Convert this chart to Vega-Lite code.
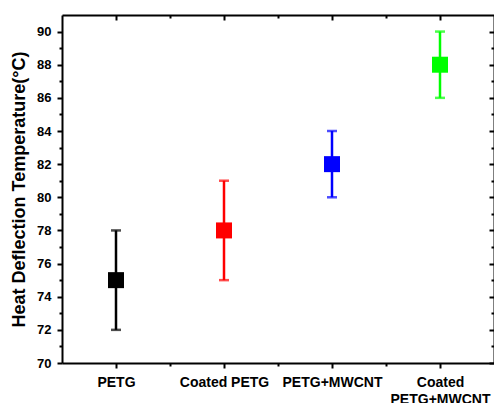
{
  "$schema": "https://vega.github.io/schema/vega-lite/v6.json",
  "autosize": "none",
  "width": 432,
  "height": 348,
  "padding": {"left": 62, "top": 15, "right": 0, "bottom": 40},
  "background": "white",
  "config": {"view": {"stroke": null}, "font": "Liberation Sans"},
  "data": {"values": [
    {"g": "PETG", "i": 1, "v": 75, "lo": 72, "hi": 78},
    {"g": "Coated PETG", "i": 2, "v": 78, "lo": 75, "hi": 81},
    {"g": "PETG+MWCNT", "i": 3, "v": 82, "lo": 80, "hi": 84},
    {"g": "Coated PETG+MWCNT", "i": 4, "v": 88, "lo": 86, "hi": 90}
  ]},
  "layer": [
    {
      "mark": {"type": "rule", "strokeWidth": 2.5},
      "encoding": {
        "x": {"field": "i", "type": "quantitative",
          "scale": {"domain": [0.5, 4.5], "nice": false, "zero": false},
          "axis": {"orient": "bottom", "title": null, "grid": false,
            "values": [1, 1.5, 2, 2.5, 3, 3.5, 4],
            "labelExpr": "datum.value == 1 ? 'PETG' : datum.value == 2 ? 'Coated PETG' : datum.value == 3 ? 'PETG+MWCNT' : datum.value == 4 ? ['Coated', 'PETG+MWCNT'] : ''",
            "labelFont": "Liberation Sans", "labelFontWeight": "bold", "labelFontSize": 14,
            "labelColor": "black", "labelPadding": 7, "labelLineHeight": 17,
            "labelOverlap": false, "labelFlush": false, "labelBound": false,
            "domainColor": "black", "domainWidth": 2,
            "tickColor": "black", "tickWidth": 2,
            "tickSize": {"condition": {"test": "datum.value % 1 == 0", "value": 5}, "value": 3}
          }},
        "y": {"field": "lo", "type": "quantitative",
          "scale": {"domain": [70, 91], "nice": false, "zero": false},
          "axis": {"orient": "left", "grid": false,
            "title": "Heat Deflection Temperature(°C)",
            "titleFont": "Liberation Sans", "titleFontWeight": "bold", "titleFontSize": 18,
            "titleColor": "black", "titlePadding": 8,
            "values": [70, 71, 72, 73, 74, 75, 76, 77, 78, 79, 80, 81, 82, 83, 84, 85, 86, 87, 88, 89, 90],
            "labelExpr": "datum.value % 2 == 0 ? datum.label : ''",
            "labelFont": "Liberation Sans", "labelFontWeight": "bold", "labelFontSize": 13,
            "labelColor": "black", "labelPadding": 6, "labelOverlap": false, "labelFlush": false,
            "domainColor": "black", "domainWidth": 2,
            "tickColor": "black", "tickWidth": 2,
            "tickSize": {"condition": {"test": "datum.value % 2 == 0", "value": 5}, "value": 3}
          }},
        "y2": {"field": "hi"},
        "color": {"field": "g", "type": "nominal", "legend": null,
          "scale": {"domain": ["PETG", "Coated PETG", "PETG+MWCNT", "Coated PETG+MWCNT"],
                    "range": ["#000000", "#ff0000", "#0000ff", "#00ff00"]}}
      }
    },
    {
      "mark": {"type": "tick", "orient": "horizontal", "size": 10, "thickness": 2.5},
      "encoding": {
        "x": {"field": "i", "type": "quantitative", "axis": null},
        "y": {"field": "lo", "type": "quantitative", "axis": null},
        "color": {"field": "g", "type": "nominal", "legend": null}
      }
    },
    {
      "mark": {"type": "tick", "orient": "horizontal", "size": 10, "thickness": 2.5},
      "encoding": {
        "x": {"field": "i", "type": "quantitative", "axis": null},
        "y": {"field": "hi", "type": "quantitative", "axis": null},
        "color": {"field": "g", "type": "nominal", "legend": null}
      }
    },
    {
      "mark": {"type": "square", "size": 256, "filled": true, "opacity": 1},
      "encoding": {
        "x": {"field": "i", "type": "quantitative", "axis": null},
        "y": {"field": "v", "type": "quantitative", "axis": null},
        "color": {"field": "g", "type": "nominal", "legend": null}
      }
    },
    {
      "mark": {"type": "point", "opacity": 0},
      "encoding": {
        "x": {"field": "i", "type": "quantitative",
          "axis": {"orient": "top", "title": null, "labels": false, "grid": false,
            "values": [1, 1.5, 2, 2.5, 3, 3.5, 4],
            "domainColor": "black", "domainWidth": 2,
            "tickColor": "black", "tickWidth": 2,
            "tickSize": {"condition": {"test": "datum.value % 1 == 0", "value": -5}, "value": -3}
          }},
        "y": {"field": "v", "type": "quantitative",
          "axis": {"orient": "right", "title": null, "labels": false, "grid": false,
            "values": [70, 71, 72, 73, 74, 75, 76, 77, 78, 79, 80, 81, 82, 83, 84, 85, 86, 87, 88, 89, 90],
            "domainColor": "black", "domainWidth": 2,
            "tickColor": "black", "tickWidth": 2,
            "tickSize": {"condition": {"test": "datum.value % 2 == 0", "value": -5}, "value": -3}
          }}
      }
    }
  ],
  "resolve": {"axis": {"x": "independent", "y": "independent"}}
}
